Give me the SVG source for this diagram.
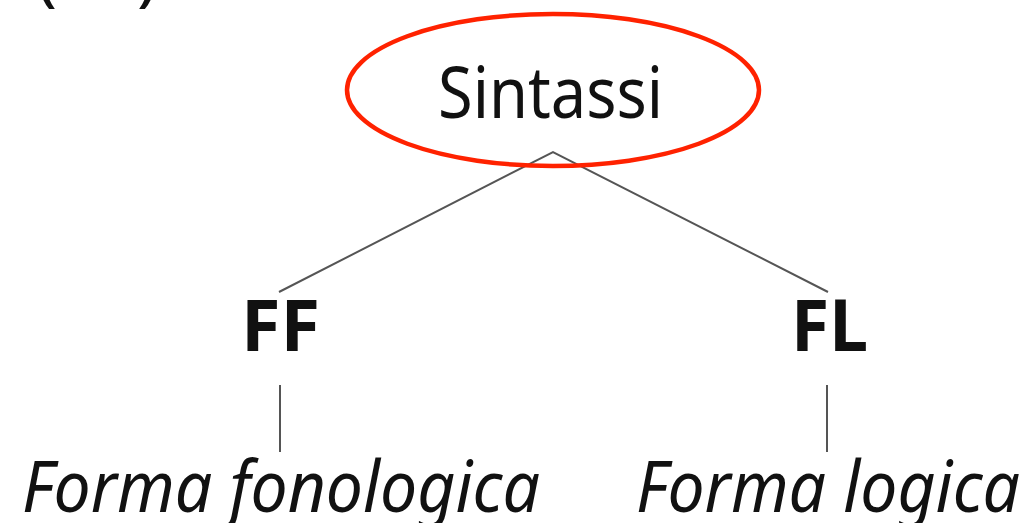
<svg xmlns="http://www.w3.org/2000/svg" width="1031" height="523" viewBox="0 0 1031 523">
<style>
.t{font-family:"Noto Sans","DejaVu Sans",sans-serif;fill:#111;font-size:72px}
.b{font-weight:bold}
.i{font-style:italic}
.e{stroke:#555;stroke-width:2;fill:none}
</style>
<rect width="1031" height="523" fill="#fff"/>
<text class="t" x="36" y="-2" textLength="122" lengthAdjust="spacingAndGlyphs">(12)</text>
<g id="connectors">
<path class="e" d="M279,292 L553,152 L828,292"/>
<path class="e" d="M280,385 V452"/>
<path class="e" d="M827,385 V452"/>
</g>
<g id="sintassi">
<ellipse cx="553" cy="90" rx="206" ry="76" fill="none" stroke="#ff2200" stroke-width="4.5"/>
<text class="t" x="438" y="118" textLength="225" lengthAdjust="spacingAndGlyphs">Sintassi</text>
</g>
<g id="ff">
<text class="t b" x="241" y="351" textLength="79" lengthAdjust="spacingAndGlyphs">FF</text>
</g>
<g id="fl">
<text class="t b" x="791" y="351" textLength="77" lengthAdjust="spacingAndGlyphs">FL</text>
</g>
<g id="forma-fonologica">
<text class="t i" x="22" y="512" textLength="518" lengthAdjust="spacingAndGlyphs">Forma fonologica</text>
</g>
<g id="forma-logica">
<text class="t i" x="636" y="512" textLength="384" lengthAdjust="spacingAndGlyphs">Forma logica</text>
</g>
</svg>
